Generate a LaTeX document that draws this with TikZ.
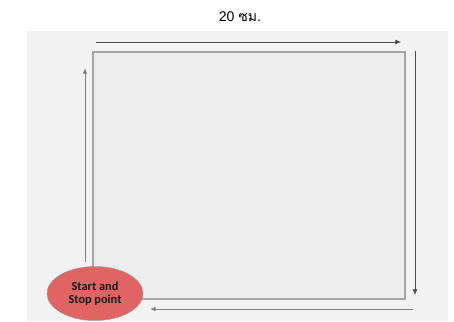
\documentclass[tikz,border=0pt]{standalone}
\usepackage{fontspec}
\setmainfont{Carlito}
\newfontfamily\thaifont[Script=Thai]{Loma}
\newfontfamily\arialfont{Liberation Sans}
\usetikzlibrary{arrows.meta,positioning,shapes.geometric}
\definecolor{bgGray}{RGB}{242,242,243}
\definecolor{fieldGray}{RGB}{236,236,236}
\definecolor{edgeGray}{RGB}{165,165,165}
\definecolor{pointRed}{RGB}{224,100,100}

\begin{document}
\begin{tikzpicture}[
    x=0.05cm, y=-0.05cm,
    title/.style={font=\fontsize{20}{24}\selectfont, inner sep=0pt},
    field/.style={rectangle, draw=edgeGray, fill=fieldGray, line width=1.6pt, inner sep=0pt, minimum width=15.6cm, minimum height=12.35cm},
    startstop/.style={ellipse, draw=gray!80, fill=pointRed, line width=0.6pt, minimum width=4.8cm, minimum height=2.7cm, align=center, inner sep=0pt, text=black!90, font=\bfseries\fontsize{17.5}{19.5}\selectfont},
    flow/.style={-{Latex[length=2.8mm, width=2.4mm]}, line width=0.9pt, black!70},
    flowlight/.style={-{Latex[length=2.8mm, width=2.4mm]}, line width=1.4pt, black!50},
]
\useasboundingbox (0,0) rectangle (454,321);

% background
\fill[bgGray] (27,31) rectangle (448,321);

% field and labels
\node[title] (title) at (240,17) {\arialfont 20 \thaifont ซม.};
\node[field] (field) at (249,175.5) {};
\node[startstop] (start) at (95,293.5) {Start and\\Stop point};

% arrow ends
\coordinate (topA) at (96,42);
\coordinate (topB) at (401,42);
\coordinate (rightA) at (415,51);
\coordinate (rightB) at (415,295);
\coordinate (bottomA) at (413,309);
\coordinate (bottomB) at (150,309);
\coordinate (leftA) at (85,262);
\coordinate (leftB) at (85,68);

% arrows round the field
\draw[flow] (topA) -- (topB);
\draw[flow] (rightA) -- (rightB);
\draw[flowlight] (bottomA) -- (bottomB);
\draw[flowlight] (leftA) -- (leftB);

\end{tikzpicture}
\end{document}
